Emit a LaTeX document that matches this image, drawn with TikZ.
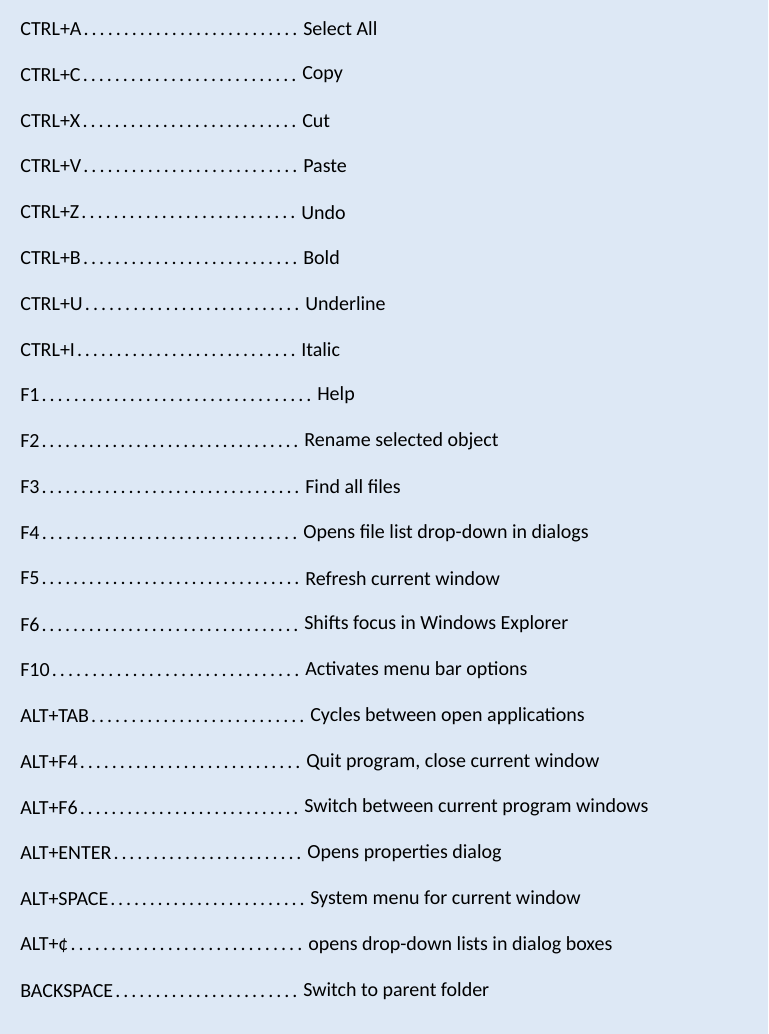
\documentclass[tikz,border=0pt]{standalone}
\usepackage{fontspec}
\setmainfont{Carlito}
\usetikzlibrary{calc}
\definecolor{pagebg}{HTML}{DDE8F5}
\tikzstyle{keytxt} = [anchor=west,inner xsep=0pt,inner ysep=2pt,font=\fontsize{15}{18}\selectfont]
\tikzstyle{desctxt} = [anchor=west,inner xsep=0pt,inner ysep=2pt,font=\fontsize{15}{18}\selectfont]
\newcommand{\dotrun}[1]{\hbox to #1{\xleaders\hbox to 5.9pt{\hss.\hss}\hfill}}
\begin{document}
\begin{tikzpicture}[x=0.75pt,y=-0.75pt]
	\fill[pagebg] (0,0) rectangle (768,1034);
	\foreach \k/\d/\xd [count=\i from 0] in {
		CTRL+A/Select All/303, CTRL+C/Copy/302, CTRL+X/Cut/302, CTRL+V/Paste/303,
		CTRL+Z/Undo/301, CTRL+B/Bold/303, CTRL+U/Underline/305, CTRL+I/Italic/301,
		F1/Help/317, F2/Rename selected object/304, F3/Find all files/305,
		F4/Opens file list drop-down in dialogs/303, F5/Refresh current window/305,
		F6/Shifts focus in Windows Explorer/304, F10/Activates menu bar options/305,
		ALT+TAB/Cycles between open applications/310,
		ALT+F4/{Quit program, close current window}/306,
		ALT+F6/Switch between current program windows/304,
		ALT+ENTER/Opens properties dialog/307, ALT+SPACE/System menu for current window/310,
		ALT+¢/opens drop-down lists in dialog boxes/308,
		BACKSPACE/Switch to parent folder/303}
	{
		\node[keytxt] (key\i) at (20,29+\i*45.8) {\k};
		\node[desctxt] (desc\i) at (\xd,29+\i*45.8) {\d};
		\path let \p1=($(desc\i.west)-(key\i.east)$) in
			node[keytxt,anchor=base west,inner ysep=0pt] at (key\i.base east) {\dotrun{\dimexpr\x1-3pt\relax}};
	}
\end{tikzpicture}
\end{document}
